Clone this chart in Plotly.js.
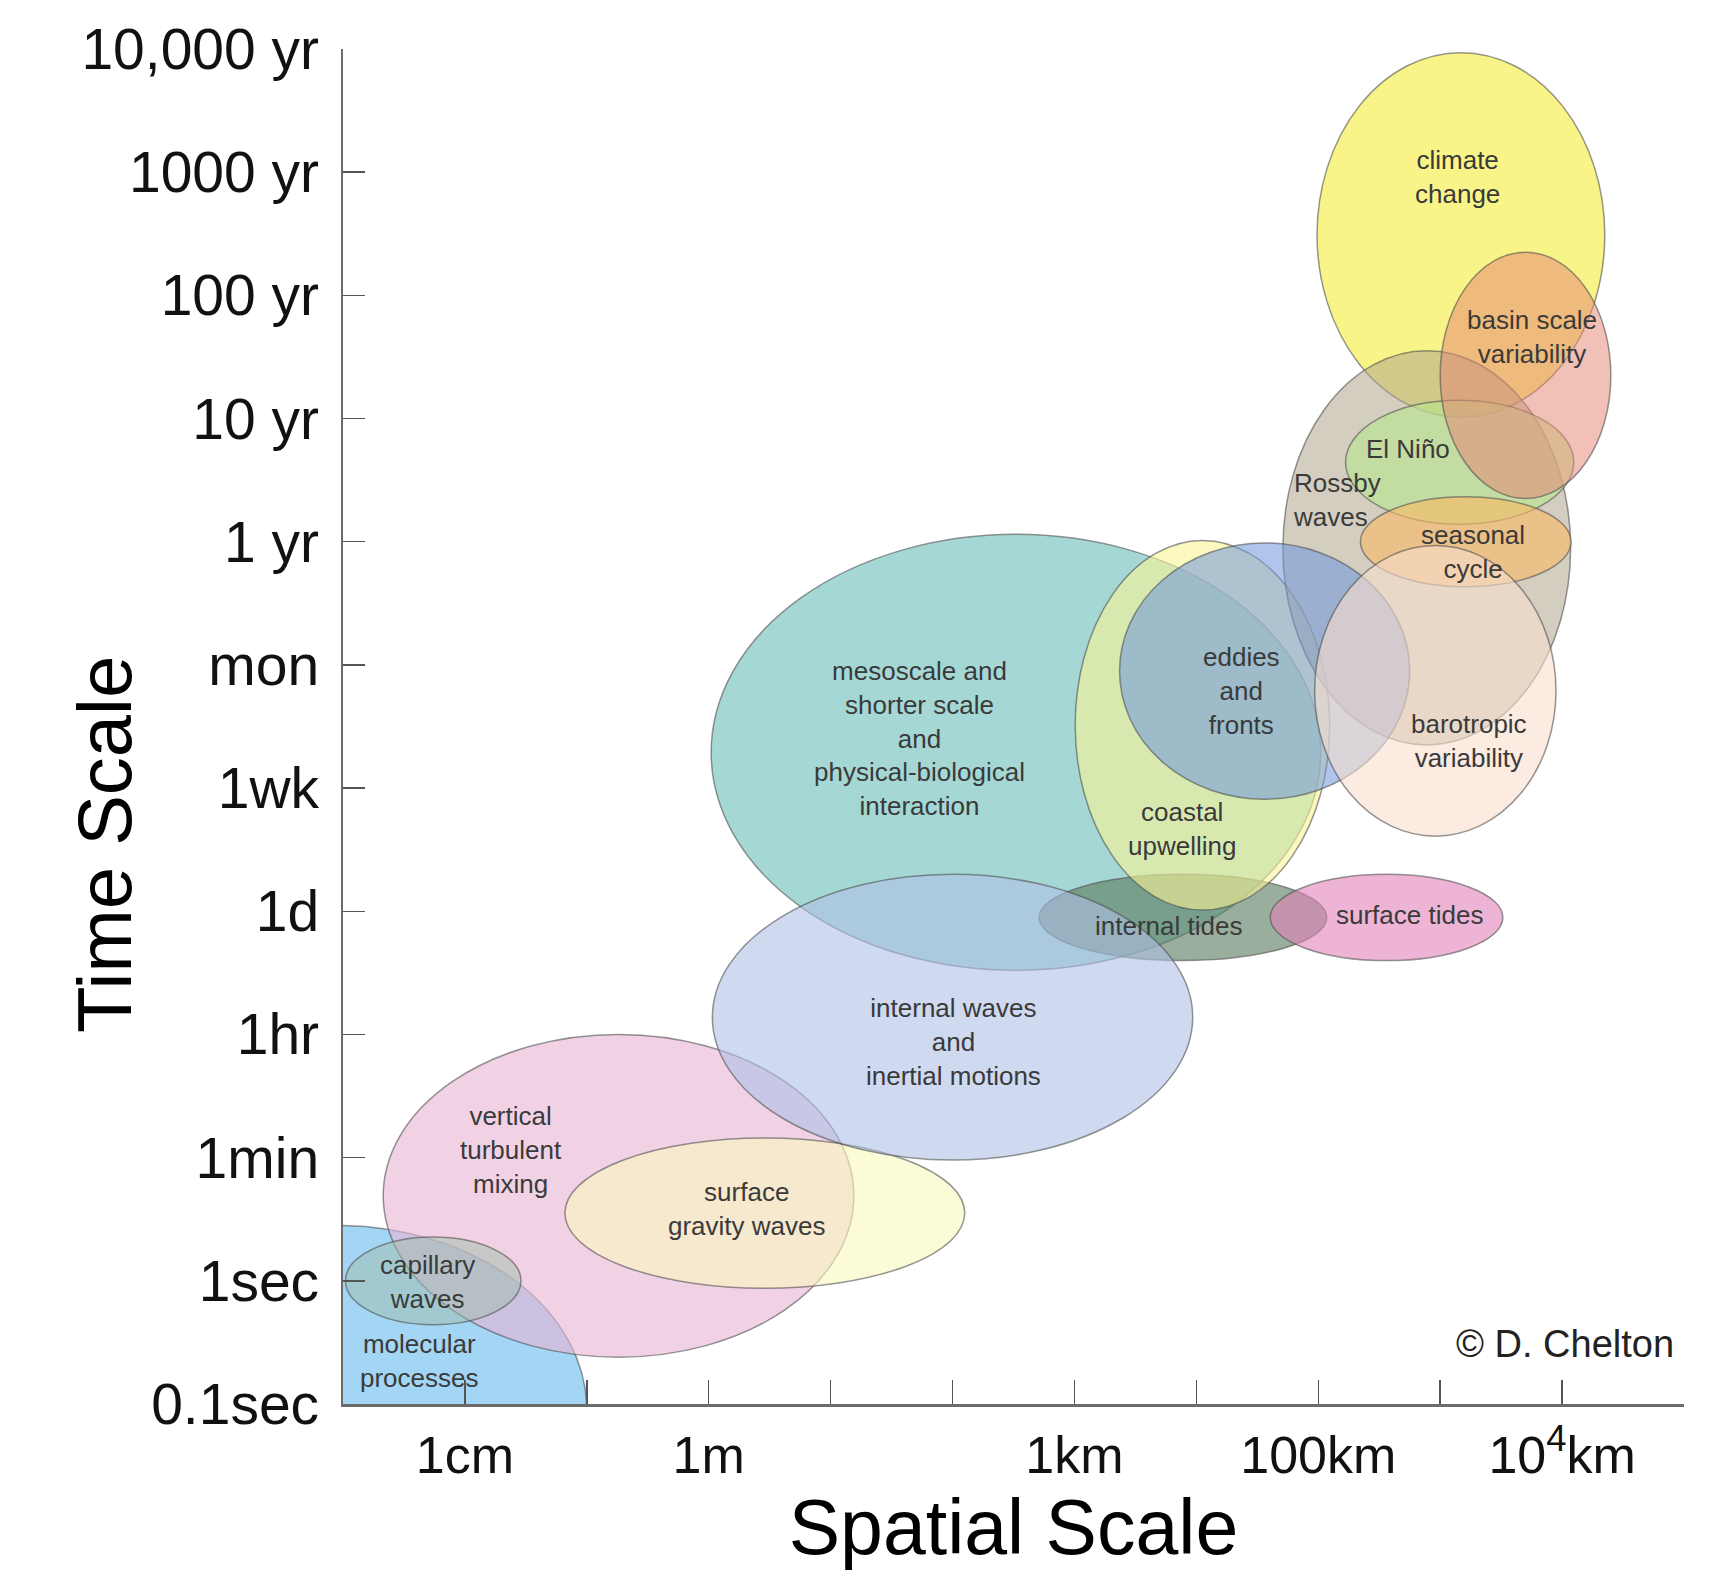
<!DOCTYPE html>
<html>
<head>
<meta charset="utf-8">
<script src="https://cdn.plot.ly/plotly-3.0.1.min.js"></script>
<style>
  html, body { margin: 0; padding: 0; background: #fff; }
  #chart { width: 1720px; height: 1580px; }
</style>
</head>
<body>
<div id="chart"></div>
<script>
// ---- axes: x = log10(length in metres), y = ordinal time-scale index ----
const xTickVals = [-2, 0, 3, 5, 7];
const xTickText = ['1cm', '1m', '1km', '100km', '10<sup>4</sup>km'];
const yTickVals = [0, 1, 2, 3, 4, 5, 6, 7, 8, 9, 10, 11];
const yTickText = ['0.1sec', '1sec', '1min', '1hr', '1d', '1wk', 'mon', '1 yr', '10 yr', '100 yr', '1000 yr', '10,000 yr'];

// ---- processes (drawing order, bottom to top) ----
const processNames = [
  'molecular processes', 'vertical turbulent mixing', 'capillary waves', 'surface gravity waves',
  'mesoscale', 'internal tides', 'coastal upwelling', 'climate change', 'Rossby waves', 'El Niño',
  'seasonal cycle', 'eddies and fronts', 'barotropic variability', 'basin scale variability',
  'internal waves', 'surface tides'
];
const centerX   = [-3.05, -0.74, -2.26, 0.46, 2.52, 3.89, 4.05, 6.17, 5.89, 6.16, 6.21, 4.56, 5.96, 6.70, 2.00, 5.56];
const centerY   = [-0.05,  1.69,  1.00, 1.55, 5.29, 3.95, 5.51, 9.49, 6.95, 7.645, 7.00, 5.95, 5.79, 8.35, 3.14, 3.95];
const halfWidth = [ 2.05,  1.93,  0.72, 1.64, 2.50, 1.18, 1.044, 1.18, 1.18, 0.936, 0.864, 1.19, 0.99, 0.70, 1.97, 0.954];
const halfHeight= [ 1.50,  1.31,  0.356, 0.61, 1.77, 0.35, 1.50, 1.48, 1.60, 0.503, 0.365, 1.04, 1.18, 1.00, 1.16, 0.35];
const fillColors = [
  'rgba(158,211,243,0.95)', 'rgba(232,180,212,0.6)', 'rgba(160,190,170,0.5)', 'rgba(250,248,190,0.6)',
  'rgba(105,190,185,0.6)', 'rgba(90,125,95,0.62)', 'rgba(250,245,150,0.6)', 'rgba(245,240,85,0.7)',
  'rgba(175,165,140,0.55)', 'rgba(185,230,140,0.6)', 'rgba(250,185,100,0.6)', 'rgba(110,150,220,0.55)',
  'rgba(248,222,205,0.6)', 'rgba(228,135,115,0.52)', 'rgba(175,192,230,0.6)', 'rgba(225,130,185,0.6)'
];

// ---- labels ----
const labelText = [
  'climate<br>change', 'basin scale<br>variability', 'El Niño', 'Rossby<br>waves', 'seasonal<br>cycle',
  'eddies<br>and<br>fronts', 'barotropic<br>variability', 'coastal<br>upwelling',
  'mesoscale and<br>shorter scale<br>and<br>physical-biological<br>interaction',
  'internal tides', 'surface tides', 'internal waves<br>and<br>inertial motions',
  'vertical<br>turbulent<br>mixing', 'surface<br>gravity waves', 'capillary<br>waves', 'molecular<br>processes'
];
const labelX = [6.145, 6.757, 5.74, 5.155, 6.27, 4.37, 6.24, 3.886, 1.725, 3.77, 5.75, 2.01, -1.623, 0.312, -2.307, -2.37];
const labelY = [9.96, 8.66, 7.75, 7.34, 6.92, 5.79, 5.38, 4.67, 5.40, 3.88, 3.97, 2.94, 2.06, 1.58, 0.99, 0.35];
const labelAlign = ['center','center','center','left','center','center','center','center','center','center','center','center','center','center','center','center'];

const FONT = 'Liberation Sans, Arial, Helvetica, sans-serif';

const shapes = processNames.map((n, i) => ({
  type: 'circle', xref: 'x', yref: 'y', layer: 'below',
  x0: centerX[i] - halfWidth[i], x1: centerX[i] + halfWidth[i],
  y0: centerY[i] - halfHeight[i], y1: centerY[i] + halfHeight[i],
  fillcolor: fillColors[i],
  line: { color: 'rgba(80,80,80,0.6)', width: 1.5 }
}));

const annotations = labelText.map((t, i) => ({
  text: t, x: labelX[i], y: labelY[i], xref: 'x', yref: 'y',
  showarrow: false, align: labelAlign[i],
  font: { family: FONT, size: 26, color: '#3a3a3a' }
}));
annotations.push({
  text: 'Time Scale', xref: 'paper', yref: 'y', x: -0.178, y: 4.54,
  xanchor: 'center', yanchor: 'middle',
  textangle: -90, showarrow: false,
  font: { family: FONT, size: 76, color: '#000' }
});
annotations.push({
  text: '© D. Chelton', xref: 'x', yref: 'y', x: 7.02, y: 0.49,
  showarrow: false, font: { family: FONT, size: 38, color: '#222' }
});

// an invisible trace so the axes are drawn
const traces = [{
  x: centerX, y: centerY, text: processNames, type: 'scatter', mode: 'markers',
  marker: { size: 1, opacity: 0 }, hoverinfo: 'text', showlegend: false
}];

const layout = {
  width: 1720, height: 1580,
  margin: { l: 343, r: 36, t: 49, b: 176 },
  paper_bgcolor: '#fff', plot_bgcolor: 'rgba(0,0,0,0)',
  showlegend: false,
  font: { family: FONT },
  xaxis: {
    range: [-3, 8], tickmode: 'array', tickvals: xTickVals, ticktext: xTickText,
    showgrid: false, zeroline: false, showline: true, linecolor: '#6b6b6b', linewidth: 2.5,
    ticks: 'inside', ticklen: 24, tickwidth: 1.5, tickcolor: '#555',
    minor: { tick0: 0, dtick: 1, ticks: 'inside', ticklen: 24, tickwidth: 1.5, tickcolor: '#555', showgrid: false },
    tickfont: { family: FONT, size: 52, color: '#111' },
    ticklabelstandoff: 4,
    title: { text: 'Spatial Scale', font: { family: FONT, size: 77, color: '#000' }, standoff: 2 },
    automargin: false, fixedrange: true
  },
  yaxis: {
    range: [0, 11], tickmode: 'array', tickvals: yTickVals, ticktext: yTickText,
    showgrid: false, zeroline: false, showline: true, linecolor: '#6b6b6b', linewidth: 2.5,
    ticks: 'inside', ticklen: 22, tickwidth: 1.5, tickcolor: '#555',
    tickfont: { family: FONT, size: 57, color: '#111' },
    ticklabelstandoff: 10,
    automargin: false, fixedrange: true
  },
  shapes: shapes,
  annotations: annotations
};

Plotly.newPlot('chart', traces, layout, { staticPlot: true, displayModeBar: false });
</script>
</body>
</html>
